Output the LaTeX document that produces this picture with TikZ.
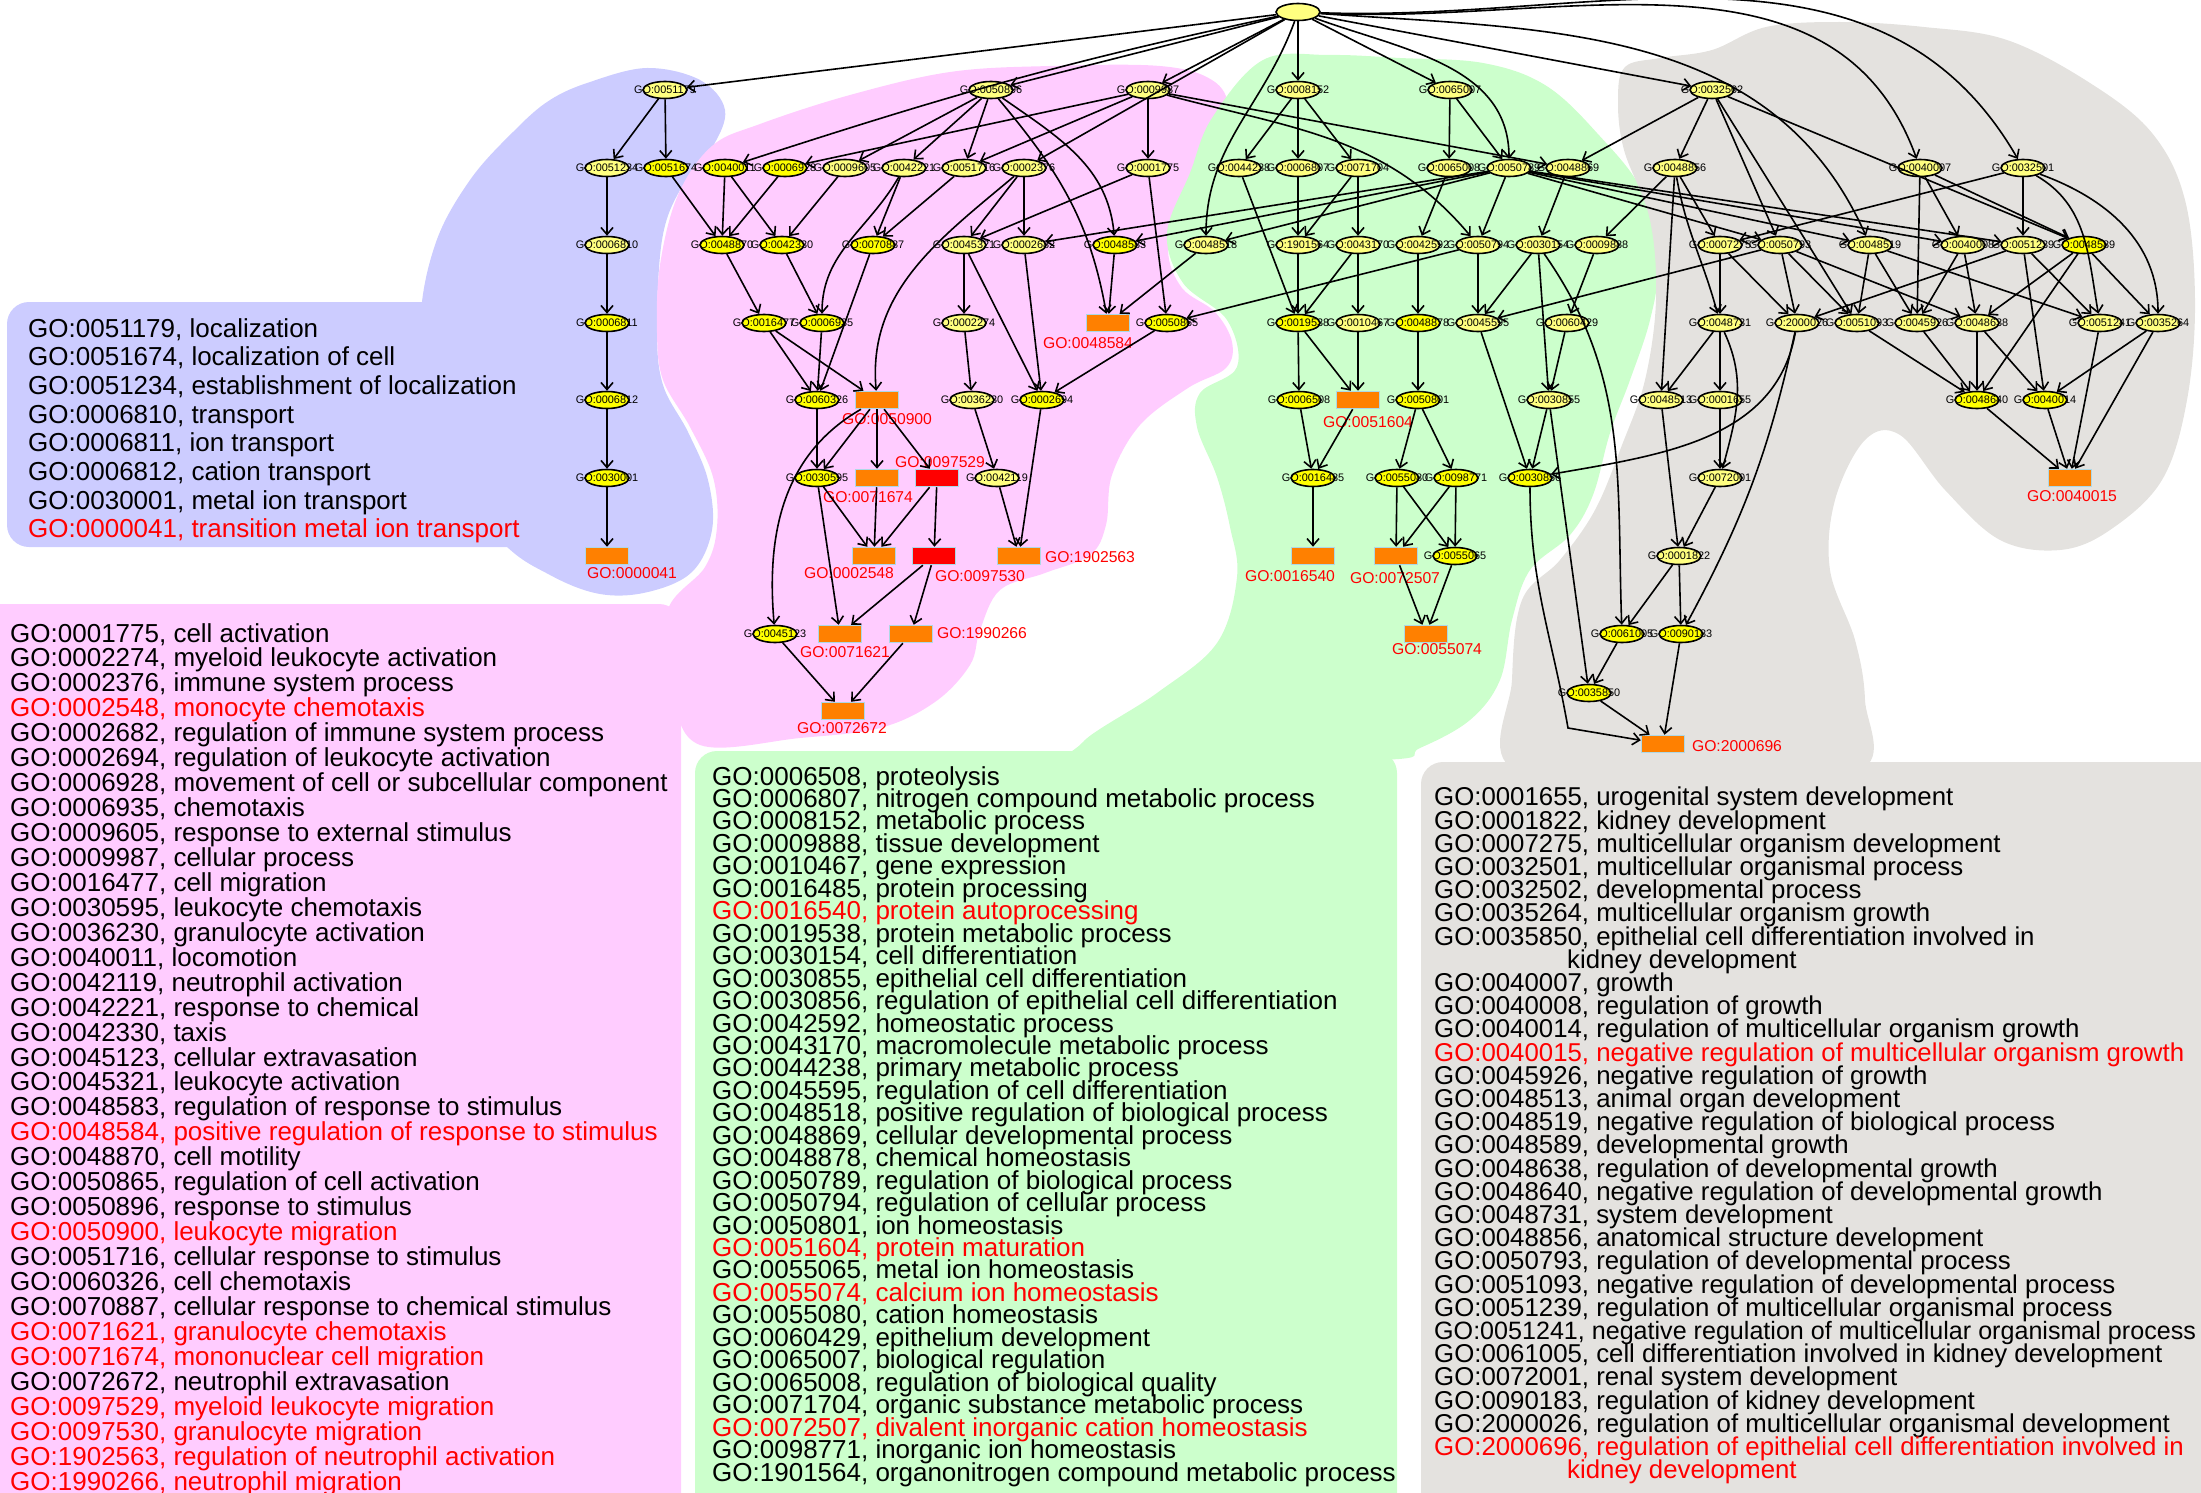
\documentclass[tikz,border=0pt]{standalone}
\usepackage{fontspec}
\setmainfont{Liberation Sans}
\usetikzlibrary{shapes.geometric,arrows.meta}
\definecolor{paleyel}{HTML}{FFFF80}
\definecolor{sigyel}{HTML}{FFFF00}
\definecolor{hitorange}{HTML}{FF8000}
\definecolor{hitred}{HTML}{FF0000}
\definecolor{hitedge}{HTML}{ADD8E6}
\definecolor{grpblue}{HTML}{CCCCFF}
\definecolor{grppink}{HTML}{FFCCFF}
\definecolor{grpgreen}{HTML}{CCFFCC}
\definecolor{grpgray}{HTML}{E4E2DF}
\newcommand{\hitterm}[1]{\textcolor{hitred}{#1}}
\setlength{\lineskiplimit}{-100pt}
\tikzset{
  rootterm/.style={ellipse, draw, line width=1.6pt, minimum width=44pt, minimum height=17pt, inner sep=0pt, fill=paleyel},
  term/.style={rootterm, label={[goid]center:{GO:#1}}},
  sigterm/.style={term=#1, fill=sigyel},
  goid/.style={font=\fontsize{10.9}{11}\selectfont, inner sep=0pt},
  hit/.style={rectangle, draw=hitedge, line width=1.5pt, fill=hitorange, minimum width=43pt, minimum height=17pt, inner sep=0pt},
  redhit/.style={hit, fill=hitred},
  hitlbl/.style={text=hitred, font=\fontsize{15.7}{16}\selectfont, inner sep=0pt},
  link/.style={-{Straight Barb[length=7pt,width=12pt]}, line width=1.6pt},
  legend/.style={anchor=north west, align=left, inner sep=0pt}
}
\begin{document}
\begin{tikzpicture}[x=1pt, y=-1pt]
    \useasboundingbox (0,0) rectangle (2201,1493);

    % groups
    \fill[grpblue] plot[smooth cycle, tension=0.6] coordinates {(590,82) (647,68) (700,80) (725,110) (712,148) (680,190) (662,240) (657,330) (663,385) (688,432) (708,480) (712,530) (692,572) (648,592) (600,594) (550,575) (500,540) (430,450) (420,330) (435,245) (470,180) (515,130) (550,100)};
    \fill[grpblue, rounded corners=22pt] (7,302) rectangle (560,547);
    \fill[grppink] plot[smooth cycle, tension=0.6] coordinates {(712,146) (760,124) (850,95) (950,72) (1050,66) (1160,66) (1212,80) (1228,108) (1213,150) (1180,200) (1168,250) (1182,288) (1215,312) (1232,342) (1226,368) (1188,388) (1140,425) (1112,475) (1106,525) (1090,555) (1045,573) (1000,590) (980,630) (970,665) (935,702) (880,728) (800,738) (700,745) (672,690) (667,612) (705,567) (717,527) (713,477) (690,427) (663,380) (657,333) (660,265) (678,195)};
    \fill[grppink, rounded corners=22pt] (-30,604) rectangle (681,1530);
    \fill[grpgreen] plot[smooth cycle, tension=0.6] coordinates {(1263,60) (1330,55) (1400,58) (1483,63) (1545,85) (1597,133) (1643,193) (1657,267) (1650,320) (1630,380) (1610,433) (1593,495) (1570,535) (1530,570) (1512,620) (1500,680) (1470,720) (1420,748) (1380,760) (1100,760) (1083,742) (1157,693) (1217,643) (1237,577) (1230,527) (1217,477) (1197,427) (1200,393) (1237,367) (1227,320) (1183,283) (1167,233) (1190,173) (1212,118)};
    \fill[grpgreen, rounded corners=22pt] (695,751) rectangle (1397,1530);
    \fill[grpgray] plot[smooth cycle, tension=0.6] coordinates {(1618,100) (1625,67) (1660,58) (1712,50) (1766,27) (1840,22) (1924,27) (2007,40) (2090,83) (2152,133) (2185,200) (2195,300) (2187,400) (2162,480) (2110,530) (2060,550) (2000,540) (1945,490) (1900,435) (1865,440) (1835,500) (1830,570) (1855,640) (1865,700) (1860,770) (1700,775) (1515,770) (1512,680) (1522,600) (1560,560) (1595,510) (1622,445) (1645,380) (1656,300) (1650,220) (1624,150)};
    \fill[grpgray, rounded corners=22pt] (1421,762) rectangle (2240,1530);

    % legends
    \node[legend, font=\fontsize{26}{28.7}\selectfont] (keyblue) at (28,318) {GO:0051179, localization\\
      GO:0051674, localization of cell\\
      GO:0051234, establishment of localization\\
      GO:0006810, transport\\
      GO:0006811, ion transport\\
      GO:0006812, cation transport\\
      GO:0030001, metal ion transport\\
      \hitterm{GO:0000041, transition metal ion transport}};
    \node[legend, font=\fontsize{26}{24.94}\selectfont] (keypink) at (10,623) {GO:0001775, cell activation\\
      GO:0002274, myeloid leukocyte activation\\
      GO:0002376, immune system process\\
      \hitterm{GO:0002548, monocyte chemotaxis}\\
      GO:0002682, regulation of immune system process\\
      GO:0002694, regulation of leukocyte activation\\
      GO:0006928, movement of cell or subcellular component\\
      GO:0006935, chemotaxis\\
      GO:0009605, response to external stimulus\\
      GO:0009987, cellular process\\
      GO:0016477, cell migration\\
      GO:0030595, leukocyte chemotaxis\\
      GO:0036230, granulocyte activation\\
      GO:0040011, locomotion\\
      GO:0042119, neutrophil activation\\
      GO:0042221, response to chemical\\
      GO:0042330, taxis\\
      GO:0045123, cellular extravasation\\
      GO:0045321, leukocyte activation\\
      GO:0048583, regulation of response to stimulus\\
      \hitterm{GO:0048584, positive regulation of response to stimulus}\\
      GO:0048870, cell motility\\
      GO:0050865, regulation of cell activation\\
      GO:0050896, response to stimulus\\
      \hitterm{GO:0050900, leukocyte migration}\\
      GO:0051716, cellular response to stimulus\\
      GO:0060326, cell chemotaxis\\
      GO:0070887, cellular response to chemical stimulus\\
      \hitterm{GO:0071621, granulocyte chemotaxis}\\
      \hitterm{GO:0071674, mononuclear cell migration}\\
      GO:0072672, neutrophil extravasation\\
      \hitterm{GO:0097529, myeloid leukocyte migration}\\
      \hitterm{GO:0097530, granulocyte migration}\\
      \hitterm{GO:1902563, regulation of neutrophil activation}\\
      \hitterm{GO:1990266, neutrophil migration}};
    \node[legend, font=\fontsize{26}{22.45}\selectfont] (keygreen) at (712,766) {GO:0006508, proteolysis\\
      GO:0006807, nitrogen compound metabolic process\\
      GO:0008152, metabolic process\\
      GO:0009888, tissue development\\
      GO:0010467, gene expression\\
      GO:0016485, protein processing\\
      \hitterm{GO:0016540, protein autoprocessing}\\
      GO:0019538, protein metabolic process\\
      GO:0030154, cell differentiation\\
      GO:0030855, epithelial cell differentiation\\
      GO:0030856, regulation of epithelial cell differentiation\\
      GO:0042592, homeostatic process\\
      GO:0043170, macromolecule metabolic process\\
      GO:0044238, primary metabolic process\\
      GO:0045595, regulation of cell differentiation\\
      GO:0048518, positive regulation of biological process\\
      GO:0048869, cellular developmental process\\
      GO:0048878, chemical homeostasis\\
      GO:0050789, regulation of biological process\\
      GO:0050794, regulation of cellular process\\
      GO:0050801, ion homeostasis\\
      \hitterm{GO:0051604, protein maturation}\\
      GO:0055065, metal ion homeostasis\\
      \hitterm{GO:0055074, calcium ion homeostasis}\\
      GO:0055080, cation homeostasis\\
      GO:0060429, epithelium development\\
      GO:0065007, biological regulation\\
      GO:0065008, regulation of biological quality\\
      GO:0071704, organic substance metabolic process\\
      \hitterm{GO:0072507, divalent inorganic cation homeostasis}\\
      GO:0098771, inorganic ion homeostasis\\
      GO:1901564, organonitrogen compound metabolic process};
    \node[legend, font=\fontsize{25.8}{23.2}\selectfont] (keygray) at (1434,787) {GO:0001655, urogenital system development\\
      GO:0001822, kidney development\\
      GO:0007275, multicellular organism development\\
      GO:0032501, multicellular organismal process\\
      GO:0032502, developmental process\\
      GO:0035264, multicellular organism growth\\
      GO:0035850, epithelial cell differentiation involved in\\
      \hspace*{133pt}kidney development\\
      GO:0040007, growth\\
      GO:0040008, regulation of growth\\
      GO:0040014, regulation of multicellular organism growth\\
      \hitterm{GO:0040015, negative regulation of multicellular organism growth}\\
      GO:0045926, negative regulation of growth\\
      GO:0048513, animal organ development\\
      GO:0048519, negative regulation of biological process\\
      GO:0048589, developmental growth\\
      GO:0048638, regulation of developmental growth\\
      GO:0048640, negative regulation of developmental growth\\
      GO:0048731, system development\\
      GO:0048856, anatomical structure development\\
      GO:0050793, regulation of developmental process\\
      GO:0051093, negative regulation of developmental process\\
      GO:0051239, regulation of multicellular organismal process\\
      {\fontsize{25.1}{23.2}\selectfont GO:0051241, negative regulation of multicellular organismal process}\\
      GO:0061005, cell differentiation involved in kidney development\\
      GO:0072001, renal system development\\
      GO:0090183, regulation of kidney development\\
      GO:2000026, regulation of multicellular organismal development\\
      \hitterm{GO:2000696, regulation of epithelial cell differentiation involved in}\\
      \hspace*{133pt}\hitterm{kidney development}};

    % terms
    \node[rootterm] (root) at (1298,12) {};

    \node[term=0051179] (n0051179) at (665,90) {};
    \node[term=0050896] (n0050896) at (991,90) {};
    \node[term=0009987] (n0009987) at (1148,90) {};
    \node[term=0008152] (n0008152) at (1298,90) {};
    \node[term=0065007] (n0065007) at (1450,90) {};
    \node[term=0032502] (n0032502) at (1712,90) {};

    \node[term=0051234] (n0051234) at (607,168) {};
    \node[sigterm=0051674] (n0051674) at (666,168) {};
    \node[sigterm=0040011] (n0040011) at (725,168) {};
    \node[sigterm=0006928] (n0006928) at (785,168) {};
    \node[term=0009605] (n0009605) at (845,168) {};
    \node[term=0042221] (n0042221) at (904,168) {};
    \node[term=0051716] (n0051716) at (964,168) {};
    \node[term=0002376] (n0002376) at (1024,168) {};
    \node[term=0001775] (n0001775) at (1148,168) {};
    \node[term=0044238] (n0044238) at (1239,168) {};
    \node[term=0006807] (n0006807) at (1298,168) {};
    \node[term=0071704] (n0071704) at (1358,168) {};
    \node[term=0065008] (n0065008) at (1449,168) {};
    \node[term=0050789] (n0050789) at (1509,168) {};
    \node[term=0048869] (n0048869) at (1568,168) {};
    \node[term=0048856] (n0048856) at (1675,168) {};
    \node[term=0040007] (n0040007) at (1920,168) {};
    \node[term=0032501] (n0032501) at (2023,168) {};

    \node[term=0006810] (n0006810) at (607,245) {};
    \node[sigterm=0048870] (n0048870) at (722,245) {};
    \node[sigterm=0042330] (n0042330) at (782,245) {};
    \node[sigterm=0070887] (n0070887) at (873,245) {};
    \node[term=0045321] (n0045321) at (964,245) {};
    \node[term=0002682] (n0002682) at (1024,245) {};
    \node[sigterm=0048583] (n0048583) at (1115,245) {};
    \node[term=0048518] (n0048518) at (1206,245) {};
    \node[term=1901564] (n1901564) at (1298,245) {};
    \node[term=0043170] (n0043170) at (1358,245) {};
    \node[term=0042592] (n0042592) at (1418,245) {};
    \node[term=0050794] (n0050794) at (1478,245) {};
    \node[term=0030154] (n0030154) at (1538,245) {};
    \node[term=0009888] (n0009888) at (1597,245) {};
    \node[term=0007275] (n0007275) at (1720,245) {};
    \node[term=0050793] (n0050793) at (1780,245) {};
    \node[term=0048519] (n0048519) at (1870,245) {};
    \node[term=0040008] (n0040008) at (1963,245) {};
    \node[term=0051239] (n0051239) at (2023,245) {};
    \node[sigterm=0048589] (n0048589) at (2084,245) {};

    \node[sigterm=0006811] (n0006811) at (607,323) {};
    \node[sigterm=0016477] (n0016477) at (764,323) {};
    \node[sigterm=0006935] (n0006935) at (822,323) {};
    \node[term=0002274] (n0002274) at (964,323) {};
    \node[hit] (n0048584) at (1108,323) {};
    \node[sigterm=0050865] (n0050865) at (1167,323) {};
    \node[sigterm=0019538] (n0019538) at (1298,323) {};
    \node[term=0010467] (n0010467) at (1358,323) {};
    \node[sigterm=0048878] (n0048878) at (1418,323) {};
    \node[term=0045595] (n0045595) at (1478,323) {};
    \node[term=0060429] (n0060429) at (1567,323) {};
    \node[term=0048731] (n0048731) at (1720,323) {};
    \node[term=2000026] (n2000026) at (1797,323) {};
    \node[term=0051093] (n0051093) at (1857,323) {};
    \node[term=0045926] (n0045926) at (1917,323) {};
    \node[term=0048638] (n0048638) at (1977,323) {};
    \node[term=0051241] (n0051241) at (2100,323) {};
    \node[term=0035264] (n0035264) at (2158,323) {};

    \node[sigterm=0006812] (n0006812) at (607,400) {};
    \node[sigterm=0060326] (n0060326) at (817,400) {};
    \node[hit] (n0050900) at (877,400) {};
    \node[term=0036230] (n0036230) at (972,400) {};
    \node[sigterm=0002694] (n0002694) at (1042,400) {};
    \node[sigterm=0006508] (n0006508) at (1299,400) {};
    \node[hit] (n0051604) at (1358,400) {};
    \node[sigterm=0050801] (n0050801) at (1418,400) {};
    \node[term=0030855] (n0030855) at (1549,400) {};
    \node[term=0048513] (n0048513) at (1661,400) {};
    \node[term=0001655] (n0001655) at (1720,400) {};
    \node[sigterm=0048640] (n0048640) at (1977,400) {};
    \node[sigterm=0040014] (n0040014) at (2045,400) {};

    \node[sigterm=0030001] (n0030001) at (607,478) {};
    \node[sigterm=0030595] (n0030595) at (817,478) {};
    \node[hit] (n0071674) at (877,478) {};
    \node[redhit] (n0097529) at (937,478) {};
    \node[term=0042119] (n0042119) at (997,478) {};
    \node[sigterm=0016485] (n0016485) at (1313,478) {};
    \node[sigterm=0055080] (n0055080) at (1397,478) {};
    \node[sigterm=0098771] (n0098771) at (1456,478) {};
    \node[sigterm=0030856] (n0030856) at (1530,478) {};
    \node[term=0072001] (n0072001) at (1720,478) {};
    \node[hit] (n0040015) at (2070,478) {};

    \node[hit] (n0000041) at (607,556) {};
    \node[hit] (n0002548) at (874,556) {};
    \node[redhit] (n0097530) at (934,556) {};
    \node[hit] (n1902563) at (1019,556) {};
    \node[hit] (n0016540) at (1313,556) {};
    \node[hit] (n0072507) at (1396,556) {};
    \node[sigterm=0055065] (n0055065) at (1455,556) {};
    \node[term=0001822] (n0001822) at (1679,556) {};

    \node[sigterm=0045123] (n0045123) at (775,634) {};
    \node[hit] (n0071621) at (840,634) {};
    \node[hit] (n1990266) at (911,634) {};
    \node[hit] (n0055074) at (1426,634) {};
    \node[sigterm=0061005] (n0061005) at (1622,634) {};
    \node[sigterm=0090183] (n0090183) at (1681,634) {};

    \node[hit] (n0072672) at (843,711) {};
    \node[sigterm=0035850] (n0035850) at (1589,693) {};
    \node[hit] (n2000696) at (1663,744) {};
    \coordinate (kink) at (1568,728);

    % names of the significant terms
    \node[hitlbl] at (632,573) {GO:0000041};
    \node[hitlbl] at (887,419) {GO:0050900};
    \node[hitlbl] at (868,497) {GO:0071674};
    \node[hitlbl] at (940,462) {GO:0097529};
    \node[hitlbl] at (849,573) {GO:0002548};
    \node[hitlbl] at (980,576) {GO:0097530};
    \node[hitlbl] at (1090,557) {GO:1902563};
    \node[hitlbl] at (845,652) {GO:0071621};
    \node[hitlbl] at (982,633) {GO:1990266};
    \node[hitlbl] at (842,728) {GO:0072672};
    \node[hitlbl] at (1088,343) {GO:0048584};
    \node[hitlbl] at (1368,422) {GO:0051604};
    \node[hitlbl] at (1290,576) {GO:0016540};
    \node[hitlbl] at (1395,578) {GO:0072507};
    \node[hitlbl] at (1437,649) {GO:0055074};
    \node[hitlbl] at (2072,496) {GO:0040015};
    \node[hitlbl] at (1737,746) {GO:2000696};

    % root
    \draw[link] (root) -- (n0051179);
    \draw[link] (root) -- (n0050896);
    \draw[link] (root) -- (n0009987);
    \draw[link] (root) to[out=-168,in=18] (n0040011);
    \draw[link] (root) -- (n0002376);
    \draw[link] (root) -- (n0008152);
    \draw[link] (root) -- (n0065007);
    \draw[link] (root) -- (n0032502);
    \draw[link] (root) to[out=-110,in=90] (n0048518);
    \draw[link] (root) to[out=-20,in=90] (n0050789);
    \draw[link] (root) to[out=-4,in=114] (n0048519);
    \draw[link] (root) to[out=-3,in=110] (n0040007);
    \draw[link] (root) to[out=-2,in=120] (n0032501);

    % localization
    \draw[link] (n0051179) -- (n0051234);
    \draw[link] (n0051179) -- (n0051674);
    \draw[link] (n0051234) -- (n0006810);
    \draw[link] (n0006810) -- (n0006811);
    \draw[link] (n0006811) -- (n0006812);
    \draw[link] (n0006812) -- (n0030001);
    \draw[link] (n0030001) -- (n0000041);
    \draw[link] (n0051674) -- (n0048870);

    % immune / response
    \draw[link] (n0050896) -- (n0009605);
    \draw[link] (n0050896) -- (n0042221);
    \draw[link] (n0050896) -- (n0051716);
    \draw[link] (n0050896) to[out=-35,in=95] (n0048583);
    \draw[link] (n0050896) to[out=-50,in=100] (n0048584);
    \draw[link] (n0009987) -- (n0006928);
    \draw[link] (n0009987) -- (n0051716);
    \draw[link] (n0009987) -- (n0001775);
    \draw[link] (n0009987) -- (n0048869);
    \draw[link] (n0009987) to[out=-15,in=130] (n0050794);
    \draw[link] (n0040011) -- (n0048870);
    \draw[link] (n0040011) -- (n0042330);
    \draw[link] (n0006928) -- (n0048870);
    \draw[link] (n0009605) -- (n0042330);
    \draw[link] (n0042221) -- (n0070887);
    \draw[link] (n0042221) to[out=-120,in=90] (n0006935);
    \draw[link] (n0051716) -- (n0070887);
    \draw[link] (n0002376) -- (n0045321);
    \draw[link] (n0002376) -- (n0002682);
    \draw[link] (n0002376) to[out=-140,in=95] (n0050900);
    \draw[link] (n0001775) -- (n0045321);
    \draw[link] (n0001775) -- (n0050865);
    \draw[link] (n0050789) -- (n0002682);
    \draw[link] (n0050789) -- (n0048583);
    \draw[link] (n0050789) -- (n0048518);
    \draw[link] (n0050789) -- (n0050794);
    \draw[link] (n0050789) -- (n0050793);
    \draw[link] (n0050789) -- (n0048519);
    \draw[link] (n0050789) -- (n0040008);
    \draw[link] (n0050789) -- (n0051239);
    \draw[link] (n0048870) -- (n0016477);
    \draw[link] (n0042330) -- (n0006935);
    \draw[link] (n0070887) -- (n0060326);
    \draw[link] (n0045321) -- (n0002274);
    \draw[link] (n0045321) -- (n0002694);
    \draw[link] (n0002682) -- (n0002694);
    \draw[link] (n0048583) -- (n0048584);
    \draw[link] (n0048518) -- (n0048584);
    \draw[link] (n0050794) -- (n0050865);
    \draw[link] (n0050794) -- (n0045595);
    \draw[link] (n0050865) -- (n0002694);
    \draw[link] (n0016477) -- (n0060326);
    \draw[link] (n0016477) -- (n0050900);
    \draw[link] (n0006935) -- (n0060326);
    \draw[link] (n0002274) -- (n0036230);
    \draw[link] (n0060326) -- (n0030595);
    \draw[link] (n0050900) -- (n0030595);
    \draw[link] (n0050900) -- (n0071674);
    \draw[link] (n0050900) -- (n0097529);
    \draw[link] (n0050900) to[out=-150,in=95] (n0045123);
    \draw[link] (n0036230) -- (n0042119);
    \draw[link] (n0002694) -- (n1902563);
    \draw[link] (n0030595) -- (n0002548);
    \draw[link] (n0030595) -- (n0071621);
    \draw[link] (n0071674) -- (n0002548);
    \draw[link] (n0097529) -- (n0002548);
    \draw[link] (n0097529) -- (n0097530);
    \draw[link] (n0042119) -- (n1902563);
    \draw[link] (n0097530) -- (n0071621);
    \draw[link] (n0097530) -- (n1990266);
    \draw[link] (n0045123) -- (n0072672);
    \draw[link] (n1990266) -- (n0072672);

    % metabolism / homeostasis
    \draw[link] (n0008152) -- (n0044238);
    \draw[link] (n0008152) -- (n0006807);
    \draw[link] (n0008152) -- (n0071704);
    \draw[link] (n0065007) -- (n0065008);
    \draw[link] (n0065007) -- (n0050789);
    \draw[link] (n0044238) -- (n0019538);
    \draw[link] (n0006807) -- (n1901564);
    \draw[link] (n0071704) -- (n1901564);
    \draw[link] (n0071704) -- (n0043170);
    \draw[link] (n0065008) -- (n0042592);
    \draw[link] (n0048869) -- (n0030154);
    \draw[link] (n1901564) -- (n0019538);
    \draw[link] (n0043170) -- (n0019538);
    \draw[link] (n0043170) -- (n0010467);
    \draw[link] (n0042592) -- (n0048878);
    \draw[link] (n0030154) -- (n0045595);
    \draw[link] (n0030154) -- (n0030855);
    \draw[link] (n0030154) to[out=-55,in=92] (n0061005);
    \draw[link] (n0009888) -- (n0060429);
    \draw[link] (n0019538) -- (n0006508);
    \draw[link] (n0019538) -- (n0051604);
    \draw[link] (n0010467) -- (n0051604);
    \draw[link] (n0048878) -- (n0050801);
    \draw[link] (n0045595) -- (n0030856);
    \draw[link] (n0060429) -- (n0030855);
    \draw[link] (n0006508) -- (n0016485);
    \draw[link] (n0051604) -- (n0016485);
    \draw[link] (n0050801) -- (n0055080);
    \draw[link] (n0050801) -- (n0098771);
    \draw[link] (n0030855) -- (n0030856);
    \draw[link] (n0030855) -- (n0035850);
    \draw[link] (n0016485) -- (n0016540);
    \draw[link] (n0055080) -- (n0072507);
    \draw[link] (n0055080) -- (n0055065);
    \draw[link] (n0098771) -- (n0072507);
    \draw[link] (n0098771) -- (n0055065);
    \draw[link] (n0072507) -- (n0055074);
    \draw[link] (n0055065) -- (n0055074);
    \draw[link] (n0030856) to[out=-90,in=100] (kink) -- (n2000696);

    % development / growth
    \draw[link] (n0032502) -- (n0048869);
    \draw[link] (n0032502) -- (n0048856);
    \draw[link] (n0032502) -- (n0050793);
    \draw[link] (n0032502) -- (n0051093);
    \draw[link] (n0032502) -- (n0048589);
    \draw[link] (n0040007) -- (n0040008);
    \draw[link] (n0040007) -- (n0048589);
    \draw[link] (n0040007) -- (n0045926);
    \draw[link] (n0032501) -- (n0007275);
    \draw[link] (n0032501) -- (n0051239);
    \draw[link] (n0032501) to[out=-30,in=100] (n0051241);
    \draw[link] (n0032501) to[out=-20,in=90] (n0035264);
    \draw[link] (n0048856) -- (n0009888);
    \draw[link] (n0048856) -- (n0007275);
    \draw[link] (n0048856) to[out=-80,in=105] (n0048731);
    \draw[link] (n0048856) -- (n0048513);
    \draw[link] (n0007275) -- (n0048731);
    \draw[link] (n0007275) -- (n2000026);
    \draw[link] (n0050793) -- (n0045595);
    \draw[link] (n0050793) -- (n2000026);
    \draw[link] (n0050793) -- (n0051093);
    \draw[link] (n0050793) -- (n0048638);
    \draw[link] (n0048519) -- (n0051093);
    \draw[link] (n0048519) -- (n0045926);
    \draw[link] (n0048519) -- (n0051241);
    \draw[link] (n0040008) -- (n0045926);
    \draw[link] (n0040008) -- (n0048638);
    \draw[link] (n0051239) -- (n2000026);
    \draw[link] (n0051239) -- (n0051241);
    \draw[link] (n0051239) -- (n0040014);
    \draw[link] (n0048589) -- (n0048638);
    \draw[link] (n0048589) -- (n0035264);
    \draw[link] (n0048589) -- (n0048640);
    \draw[link] (n0048731) -- (n0048513);
    \draw[link] (n0048731) -- (n0001655);
    \draw[link] (n0048731) to[out=-65,in=75] (n0072001);
    \draw[link] (n2000026) to[bend left=8] (n0090183);
    \draw[link] (n2000026) to[out=-100,in=10] (n0030856);
    \draw[link] (n0051093) -- (n0048640);
    \draw[link] (n0045926) -- (n0048640);
    \draw[link] (n0048638) -- (n0048640);
    \draw[link] (n0048638) -- (n0040014);
    \draw[link] (n0051241) -- (n0040015);
    \draw[link] (n0035264) -- (n0040014);
    \draw[link] (n0035264) -- (n0040015);
    \draw[link] (n0048640) -- (n0040015);
    \draw[link] (n0040014) -- (n0040015);
    \draw[link] (n0048513) -- (n0001822);
    \draw[link] (n0001655) -- (n0072001);
    \draw[link] (n0072001) -- (n0001822);
    \draw[link] (n0001822) -- (n0061005);
    \draw[link] (n0001822) -- (n0090183);
    \draw[link] (n0061005) -- (n0035850);
    \draw[link] (n0090183) -- (n2000696);
    \draw[link] (n0035850) -- (n2000696);
\end{tikzpicture}
\end{document}
